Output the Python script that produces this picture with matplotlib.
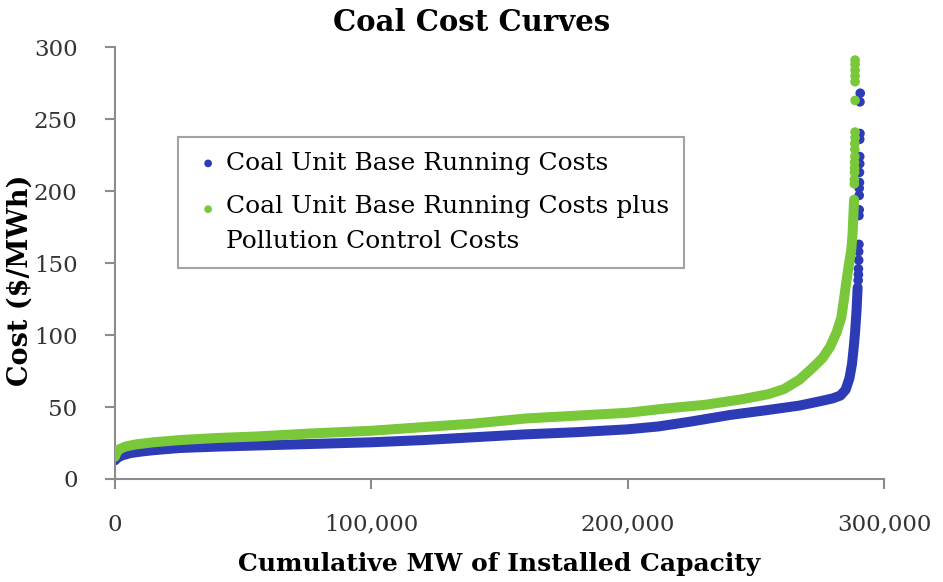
import matplotlib.pyplot as plt
from matplotlib.legend_handler import HandlerPathCollection

# 数据：从图中读取（MW, $/MWh）
base_mw = [0, 1000, 3000, 6000, 10000, 15000, 25000, 40000, 60000, 80000, 100000,
           120000, 140000, 160000, 180000, 200000, 212000, 225000, 240000, 255000,
           267000, 275000, 280000, 283000, 285000, 286500, 287500, 288200, 288700,
           289000, 289300, 289500, 289700]
base_cost = [13, 15, 16.5, 18, 19, 20, 21.5, 22.5, 23.5, 24.5, 25.5,
             27, 29, 31, 32.5, 34.5, 36.5, 40, 44.5, 48,
             51, 54, 56, 58, 62, 70, 80, 92, 102,
             110, 118, 126, 133]
base_top_mw = [289900, 290000, 290000, 290100, 290100, 290200, 290200, 290300, 290300,
               290300, 290400, 290400, 290500, 290500, 290500, 290600, 290600, 290700]
base_top_cost = [138, 142, 146, 152, 158, 163, 183, 187, 197,
                 202, 206, 213, 219, 224, 236, 240, 262, 268]

poll_mw = [0, 500, 1500, 4000, 8000, 15000, 25000, 40000, 55000, 75000, 100000,
           120000, 140000, 160000, 180000, 200000, 215000, 230000, 245000, 255000,
           261000, 267000, 272000, 276000, 279000, 281500, 283300, 284300, 285200,
           286200, 287200, 287700, 288000, 288300]
poll_cost = [15.5, 18, 20.5, 22.5, 24, 25.5, 27, 28.5, 29.5, 31.5, 33.5,
             36, 38.5, 42, 44, 46, 49, 51.5, 55.5, 59,
             62.5, 69, 77, 84, 92, 102, 112, 124, 136,
             148, 159, 170, 182, 194]
poll_top_mw = [288400, 288400, 288500, 288500, 288500, 288600, 288600, 288600, 288700,
               288700, 288700, 288700, 288700, 288700, 288700, 288700]
poll_top_cost = [205, 208, 213, 216, 220, 224, 229, 233, 237,
                 241, 263, 276, 280, 284, 288, 291]

blue = '#2d3cb6'
green = '#78c83a'

plt.rcParams['font.family'] = ['DejaVu Serif']
plt.rcParams['font.size'] = 16

fig = plt.figure(figsize=(9.43, 5.82), dpi=100)
ax = fig.add_axes([0.122, 0.177, 0.8155, 0.742])

# 基础运行成本
ax.plot(base_mw, base_cost, color=blue, lw=7.2, solid_capstyle='round', zorder=2)
sc_base = ax.scatter(base_top_mw, base_top_cost, s=48, color=blue, edgecolors='none', zorder=2,
                     label='Coal Unit Base Running Costs')
# 加污染控制成本
ax.plot(poll_mw, poll_cost, color=green, lw=7.2, solid_capstyle='round', zorder=3)
sc_poll = ax.scatter(poll_top_mw, poll_top_cost, s=48, color=green, edgecolors='none', zorder=3,
                     label='Coal Unit Base Running Costs plus\nPollution Control Costs')

ax.set_xlim(0, 300000)
ax.set_ylim(0, 300)
ax.set_xticks([0, 100000, 200000, 300000])
ax.set_xticklabels(['0', '100,000', '200,000', '300,000'])
ax.set_yticks([0, 50, 100, 150, 200, 250, 300])

for s in ['top', 'right']:
    ax.spines[s].set_visible(False)
for s in ['left', 'bottom']:
    ax.spines[s].set_color('#8c8c8c')
    ax.spines[s].set_linewidth(1.5)
ax.tick_params(colors='#8c8c8c', labelcolor='#333333', width=1.5, length=7,
               labelsize=16.5)
ax.tick_params(axis='x', pad=18)
ax.tick_params(axis='y', pad=20)

fig.text(0.5, 0.962, 'Coal Cost Curves', fontsize=21, fontweight='bold',
         ha='center', va='center')
ax.set_xlabel('Cumulative MW of Installed Capacity', fontsize=18, fontweight='bold', labelpad=12)
ax.set_ylabel('Cost ($/MWh)', fontsize=19.5, fontweight='bold', va='center')
ax.yaxis.set_label_coords(-0.123, 0.46)

# 第二项的圆点对齐到第一行文字
leg = ax.legend(loc='upper left', bbox_to_anchor=(0.082, 0.792), frameon=True,
                fancybox=False, edgecolor='#8c8c8c', scatterpoints=1, markerscale=0.8,
                handletextpad=0.1, handlelength=1.2, fontsize=18, borderpad=0.6,
                labelspacing=0.8, borderaxespad=0,
                handler_map={sc_poll: HandlerPathCollection(yoffsets=[1.35])})
leg.get_frame().set_linewidth(1.5)
for t in leg.get_texts():
    t.set_linespacing(1.65)

fig.savefig('out.png', dpi=100)
